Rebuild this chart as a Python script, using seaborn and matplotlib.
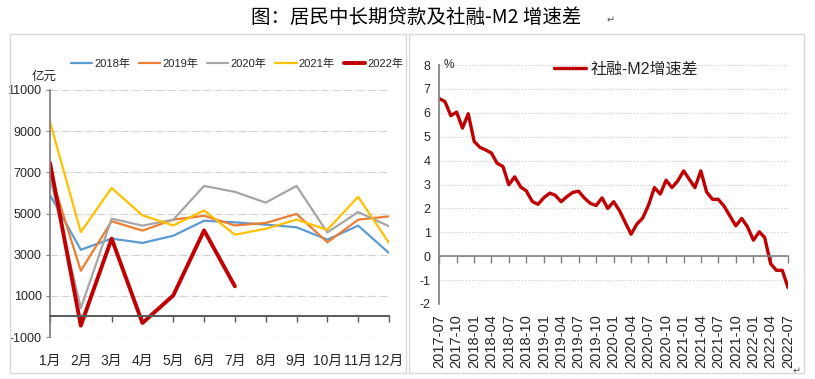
import matplotlib
matplotlib.use('Agg')
import matplotlib.pyplot as plt
import pandas as pd
import seaborn as sns
from matplotlib.patches import Rectangle

# left panel: 居民中长期贷款 (亿元)
months = ['1月', '2月', '3月', '4月', '5月', '6月', '7月', '8月', '9月', '10月', '11月', '12月']
loans_2018 = [5900, 3240, 3780, 3570, 3920, 4650, 4570, 4460, 4330, 3730, 4410, 3080]
loans_2019 = [7000, 2220, 4620, 4170, 4700, 4890, 4420, 4540, 4980, 3600, 4700, 4860]
loans_2020 = [6800, 400, 4750, 4410, 4700, 6340, 6050, 5530, 6340, 4080, 5070, 4380]
loans_2021 = [9450, 4100, 6240, 4910, 4420, 5150, 3970, 4260, 4700, 4210, 5810, 3570]
loans_2022 = [7460, -450, 3780, -320, 1020, 4180, 1460]

# right panel: 社融-M2 增速差 (%), monthly 2017-07 .. 2022-07
spread_values = [
    6.60, 6.47, 5.88, 6.03, 5.36, 5.96,
    4.80, 4.55, 4.45, 4.32, 3.89, 3.75, 2.99, 3.32, 2.90, 2.73, 2.29, 2.17,
    2.45, 2.64, 2.55, 2.28, 2.49, 2.67, 2.72, 2.43, 2.21, 2.12, 2.44, 2.00,
    2.28, 1.90, 1.42, 0.92, 1.34, 1.60, 2.13, 2.87, 2.60, 3.18, 2.87, 3.15,
    3.57, 3.20, 2.87, 3.57, 2.69, 2.38, 2.38, 2.09, 1.67, 1.27, 1.58, 1.23,
    0.67, 1.02, 0.78, -0.31, -0.59, -0.59, -1.31,
]
spread_dates = pd.date_range('2017-07-01', '2022-07-01', freq='MS')

year_labels = ['2018年', '2019年', '2020年', '2021年', '2022年']
year_series = [loans_2018, loans_2019, loans_2020, loans_2021, loans_2022]
year_colors = ['#5B9BD5', '#ED7D31', '#A5A5A5', '#FFC000', '#C00000']
year_widths = [1.6, 1.6, 1.6, 1.6, 2.8]

sns.set_theme(style='white')
plt.rcParams['font.family'] = ['Liberation Sans', 'Noto Sans CJK SC', 'DejaVu Sans']
plt.rcParams['axes.unicode_minus'] = False

fig = plt.figure(figsize=(8.15, 3.79), dpi=100)

# panel frames
fig.add_artist(Rectangle((10 / 815, 1 - 373 / 379), 396 / 815, 339 / 379,
                         transform=fig.transFigure, fill=False, ec='#D9D9D9', lw=1))
fig.add_artist(Rectangle((409 / 815, 1 - 373 / 379), 395 / 815, 339 / 379,
                         transform=fig.transFigure, fill=False, ec='#D9D9D9', lw=1))

fig.text(416 / 815, 1 - 17 / 379, '图：居民中长期贷款及社融-M2 增速差',
         ha='center', va='center', fontsize=14,
         family=['Noto Sans CJK SC', 'DejaVu Sans'], color='black')
fig.text(607 / 815, 1 - 20 / 379, '↵', ha='left', va='center', fontsize=7,
         family=['DejaVu Sans'], color='#555555')
fig.text(797 / 815, 1 - 371 / 379, '↵', ha='center', va='center', fontsize=7,
         family=['DejaVu Sans'], color='#555555')

# ---------- left ----------
ax1 = fig.add_axes([50 / 815, 1 - 337 / 379, 339 / 815, 247 / 379])
month_pos = list(range(1, 13))
for label, vals, col, lw in zip(year_labels, year_series, year_colors, year_widths):
    sns.lineplot(x=month_pos[:len(vals)], y=vals, ax=ax1, color=col, lw=lw, label=label)

ax1.set_xlim(1, 12)
ax1.set_ylim(-1000, 11000)
ax1.set_yticks(range(-1000, 11001, 2000))
ax1.set_xticks(month_pos)
ax1.set_xlabel('')
ax1.set_ylabel('')
ax1.tick_params(axis='x', labelbottom=False, direction='out', length=4, width=1,
                color='#595959', bottom=True)
ax1.tick_params(axis='y', labelsize=9, length=3, width=0.8, color='#808080',
                left=True, pad=3)
for y in range(-1000, 11001, 2000):
    ax1.axhline(y, color='#D0D0D0', lw=0.8, ls='-.', zorder=0)
for s in ['top', 'right']:
    ax1.spines[s].set_visible(False)
ax1.spines['left'].set_color('#808080')
ax1.spines['bottom'].set_position(('data', 0))
ax1.spines['bottom'].set_color('#595959')
ax1.spines['bottom'].set_linewidth(1.4)

sec1 = ax1.secondary_xaxis('bottom')
sec1.set_xticks(month_pos)
sec1.set_xticklabels(months)
sec1.tick_params(length=0, pad=12, labelsize=10)
sec1.spines['bottom'].set_visible(False)

ax1.text(-0.018, 1.052, '亿元', transform=ax1.transAxes, ha='center', va='center',
         fontsize=9)
ax1.legend(loc='center', bbox_to_anchor=(237 / 815, 1 - 64 / 379),
           bbox_transform=fig.transFigure, ncol=5, frameon=False, fontsize=8,
           handlelength=1.9, handletextpad=0.2, columnspacing=0.8)

# ---------- right ----------
ax2 = fig.add_axes([439 / 815, 1 - 304 / 379, 349 / 815, 239 / 379])
sns.lineplot(x=spread_dates, y=spread_values, ax=ax2, color='#C00000', lw=2.4,
             label='社融-M2增速差')
ax2.set_xlim(spread_dates[0], spread_dates[-1])
ax2.set_ylim(-2, 8)
ax2.set_yticks(range(-2, 9))
ax2.set_xlabel('')
ax2.set_ylabel('')
q_ticks = spread_dates[::3]
ax2.set_xticks(q_ticks)
ax2.tick_params(axis='x', labelbottom=False, direction='out', length=5, width=1,
                color='#808080', bottom=True)
ax2.tick_params(axis='y', labelsize=9, length=0, pad=6)
for y in range(-1, 9):
    ax2.axhline(y, color='#C8C8C8', lw=0.8, ls=':', zorder=0)
for s in ['top', 'right']:
    ax2.spines[s].set_visible(False)
ax2.spines['left'].set_color('#808080')
ax2.spines['bottom'].set_position(('data', 0))
ax2.spines['bottom'].set_color('#808080')
ax2.spines['bottom'].set_linewidth(1.2)

sec2 = ax2.secondary_xaxis('bottom')
sec2.set_xticks(q_ticks)
sec2.set_xticklabels([d.strftime('%Y-%m') for d in q_ticks], rotation=90)
sec2.tick_params(length=0, pad=7, labelsize=10.5)
sec2.spines['bottom'].set_visible(False)

ax2.text(0.014, 1.0, '%', transform=ax2.transAxes, ha='left', va='center', fontsize=8.5)
ax2.legend(loc='center', bbox_to_anchor=(626 / 815, 1 - 69 / 379),
           bbox_transform=fig.transFigure, frameon=False, fontsize=11.5,
           handlelength=2.0, handletextpad=0.3)

fig.savefig('out.png', dpi=100)
